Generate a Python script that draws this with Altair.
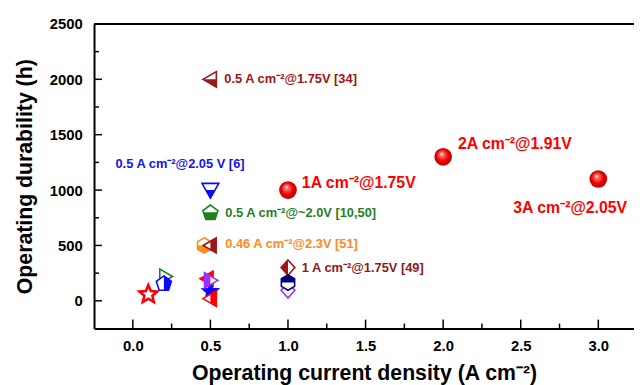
import math
import altair as alt
import pandas as pd

# ---------------- data ----------------
# this work (red spheres)
this_cur = [1.0, 2.0, 3.0]
this_dur = [1000, 1300, 1100]
this_text = ["1A cm⁻²@1.75V", "2A cm⁻²@1.91V", "3A cm⁻²@2.05V"]

# literature markers (drawing order = z-order)
ref_cur = [0.5, 0.5, 0.5, 0.46, 0.5, 1.0, 1.0, 1.0, 0.21, 0.2, 0.1, 0.48, 0.5, 0.5, 0.5]
ref_dur = [2000, 1000, 800, 500, 500, 300, 95, 165, 220, 160, 65, 200, 90, 185, 20]

# annotations of literature markers
ann_text = ["0.5 A cm⁻²@1.75V [34]", "0.5 A cm⁻²@2.05 V [6]", "0.5 A cm⁻²@~2.0V [10,50]",
            "0.46 A cm⁻²@2.3V [51]", "1 A cm⁻²@1.75V [49]"]
ann_cur = [0.5, 0.5, 0.5, 0.5, 1.0]
ann_dur = [2000, 1000, 800, 500, 300]

x_major = [0.0, 0.5, 1.0, 1.5, 2.0, 2.5, 3.0]
x_minor = [0.25, 0.75, 1.25, 1.75, 2.25, 2.75]
y_major = [0, 500, 1000, 1500, 2000, 2500]
y_minor = [250, 750, 1250, 1750, 2250]

# ---------------- styles ----------------
DARKRED, BLUE, GREEN, ORANGE = "#9e1616", "#0a0aff", "#1f801f", "#ff8a1e"
NAVY, PURPLE, RED = "#00007a", "#9a30ff", "#ff0000"
ref_shape = ["tri-left", "tri-down", "pentagon", "hexagon", "tri-left", "diamond", "diamond",
             "hexagon", "tri-right", "pentagon", "star", "tri-left", "star", "tri-right", "tri-left"]
ref_color = [DARKRED, BLUE, GREEN, ORANGE, DARKRED, DARKRED, PURPLE, NAVY, GREEN, BLUE, RED,
             RED, BLUE, PURPLE, RED]
ref_half = ["bottom", "bottom", "bottom", "bottom", "right", "left", "none", "top", "none",
            "right", "none", "full", "full", "left", "right"]
ref_size = [256, 289, 256, 240, 240, 240, 240, 240, 230, 256, 360, 240, 200, 256, 256]

ann_color = [DARKRED, "#1414f0", GREEN, ORANGE, "#8b1a1a"]
ann_dx = [14, -96, 15, 15, 14]
ann_dy = [0, -26, 1, -1, 0]
this_dx = [14, 15, -86]
this_dy = [-7, -13, 29]

FONT = "Liberation Sans, Arial, sans-serif"
XS = alt.Scale(domain=[-0.25, 3.23], nice=False, zero=False)
YS = alt.Scale(domain=[-250, 2500], nice=False, zero=False)
W, H = 546, 308


def poly(name):
    if name == "tri-left":
        return [(-0.95, 0.0), (0.75, -0.98), (0.75, 0.98)]
    if name == "tri-right":
        return [(0.95, 0.0), (-0.75, -0.98), (-0.75, 0.98)]
    if name == "tri-down":
        return [(-1.0, -0.8), (1.0, -0.8), (0.0, 0.95)]
    if name == "diamond":
        return [(0.0, -1.0), (0.9, 0.0), (0.0, 1.0), (-0.9, 0.0)]
    if name == "pentagon":
        return [(math.cos(math.radians(-90 + 72 * k)),
                 math.sin(math.radians(-90 + 72 * k)) + 0.095) for k in range(5)]
    if name == "hexagon":
        return [(math.cos(math.radians(-90 + 60 * k)),
                 math.sin(math.radians(-90 + 60 * k))) for k in range(6)]
    if name == "star":
        pts = []
        for k in range(10):
            r = 1.0 if k % 2 == 0 else 0.45
            a = math.radians(-90 + 36 * k)
            pts.append((r * math.cos(a), r * math.sin(a) + 0.095))
        return pts
    raise ValueError(name)


def clip(pts, side):
    if side == "full":
        return pts
    f = {"bottom": lambda p: p[1], "top": lambda p: -p[1],
         "left": lambda p: -p[0], "right": lambda p: p[0]}[side]
    out = []
    n = len(pts)
    for i in range(n):
        a, b = pts[i], pts[(i + 1) % n]
        fa, fb = f(a), f(b)
        if fa >= 0:
            out.append(a)
        if (fa >= 0) != (fb >= 0):
            t = fa / (fa - fb)
            out.append((a[0] + t * (b[0] - a[0]), a[1] + t * (b[1] - a[1])))
    return out


def to_path(pts):
    return "M" + " L".join(f"{x:.3f},{y:.3f}" for x, y in pts) + " Z"


def xy():
    return dict(x=alt.X("cur:Q", scale=XS), y=alt.Y("dur:Q", scale=YS))


layers = []

# base layer carrying axes
base_df = pd.DataFrame({"cur": this_cur, "dur": this_dur})
axis_common = dict(labelFont=FONT, labelFontSize=15, labelFontWeight="bold", labelColor="black",
                   titleFont=FONT, titleFontSize=21.5, titleFontWeight="bold", titleColor="black",
                   domainColor="black", domainWidth=2, ticks=False, grid=False)
axes_layer = alt.Chart(base_df).mark_point(opacity=0).encode(
    x=alt.X("cur:Q", scale=XS, axis=alt.Axis(values=x_major, format=".1f", labelPadding=10,
                                              title="Operating current density (A cm⁻²)",
                                              titlePadding=10, **axis_common)),
    y=alt.Y("dur:Q", scale=YS, axis=alt.Axis(values=y_major, format="d", labelPadding=12,
                                              title="Operating durability (h)",
                                              titlePadding=13, **axis_common)),
)
layers.append(axes_layer)

# top frame line
layers.append(alt.Chart(base_df).mark_rule(color="black", strokeWidth=2).encode(
    y=alt.value(0), x=alt.value(0), x2=alt.value(W)))

# inward ticks
layers.append(alt.Chart(pd.DataFrame({"dur": y_major})).mark_tick(
    orient="horizontal", size=8, thickness=1.5, color="black", opacity=1).encode(
    y=alt.Y("dur:Q", scale=YS), x=alt.value(4)))
layers.append(alt.Chart(pd.DataFrame({"dur": y_minor})).mark_tick(
    orient="horizontal", size=5, thickness=1.5, color="black", opacity=1).encode(
    y=alt.Y("dur:Q", scale=YS), x=alt.value(2.5)))
layers.append(alt.Chart(pd.DataFrame({"cur": x_major})).mark_tick(
    orient="vertical", size=9, thickness=1.5, color="black", opacity=1).encode(
    x=alt.X("cur:Q", scale=XS), y=alt.value(H - 4.5)))
layers.append(alt.Chart(pd.DataFrame({"cur": x_minor})).mark_tick(
    orient="vertical", size=5, thickness=1.5, color="black", opacity=1).encode(
    x=alt.X("cur:Q", scale=XS), y=alt.value(H - 2.5)))

# literature markers: white body, half fill, outline
for i in range(len(ref_cur)):
    pts = poly(ref_shape[i])
    df = pd.DataFrame({"cur": [ref_cur[i]], "dur": [ref_dur[i]]})
    layers.append(alt.Chart(df).mark_point(
        shape=to_path(pts), filled=True, fill="white", opacity=1, strokeOpacity=0,
        size=ref_size[i]).encode(**xy()))
    if ref_half[i] != "none":
        layers.append(alt.Chart(df).mark_point(
            shape=to_path(clip(pts, ref_half[i])), filled=True, fill=ref_color[i], opacity=1,
            strokeOpacity=0, size=ref_size[i]).encode(**xy()))
    layers.append(alt.Chart(df).mark_point(
        shape=to_path(pts), filled=False, stroke=ref_color[i], opacity=1,
        strokeWidth=2.6 if ref_shape[i] == "star" else 1.6, size=ref_size[i]).encode(**xy()))

# spheres
grad = alt.RadialGradient(
    gradient="radial", x1=0.4, y1=0.32, r1=0.0, x2=0.5, y2=0.5, r2=0.55,
    stops=[alt.GradientStop(offset=0.0, color="#ffffff"),
           alt.GradientStop(offset=0.22, color="#ff6a6a"),
           alt.GradientStop(offset=0.6, color="#f00000"),
           alt.GradientStop(offset=1.0, color="#b00000")])
layers.append(alt.Chart(base_df).mark_circle(fill=grad, opacity=1, size=320).encode(**xy()))

# annotations
for i in range(len(ann_text)):
    df = pd.DataFrame({"cur": [ann_cur[i]], "dur": [ann_dur[i]], "t": [ann_text[i]]})
    layers.append(alt.Chart(df).mark_text(
        align="left", baseline="middle", dx=ann_dx[i], dy=ann_dy[i], font=FONT,
        fontSize=13, fontWeight="bold", color=ann_color[i]).encode(text="t:N", **xy()))
for i in range(len(this_text)):
    df = pd.DataFrame({"cur": [this_cur[i]], "dur": [this_dur[i]], "t": [this_text[i]]})
    layers.append(alt.Chart(df).mark_text(
        align="left", baseline="middle", dx=this_dx[i], dy=this_dy[i], font=FONT,
        fontSize=16, fontWeight="bold", color=RED).encode(text="t:N", **xy()))

chart = alt.layer(*layers).properties(
    width=W, height=H,
    padding={"left": 87, "top": 14, "right": 0, "bottom": 55},
    autosize=alt.AutoSizeParams(type="none"),
    background="white",
).configure_view(stroke=None)

chart.save("out.html", embed_options={"renderer": "svg", "actions": False})
